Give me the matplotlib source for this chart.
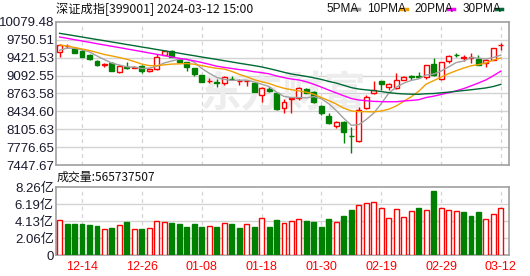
import numpy as np
import matplotlib.pyplot as plt
from matplotlib.lines import Line2D

# 深证成指 399001, daily K line, 2023-12-11 .. 2024-03-12
dates = ["12-11", "12-12", "12-13", "12-14", "12-15", "12-18", "12-19", "12-20", "12-21", "12-22",
         "12-25", "12-26", "12-27", "12-28", "12-29", "01-02", "01-03", "01-04", "01-05", "01-08",
         "01-09", "01-10", "01-11", "01-12", "01-15", "01-16", "01-17", "01-18", "01-19", "01-22",
         "01-23", "01-24", "01-25", "01-26", "01-29", "01-30", "01-31", "02-01", "02-02", "02-05",
         "02-06", "02-07", "02-08", "02-19", "02-20", "02-21", "02-22", "02-23", "02-26", "02-27",
         "02-28", "02-29", "03-01", "03-04", "03-05", "03-06", "03-07", "03-08", "03-11", "03-12"]

opens = [9527, 9630, 9601, 9546, 9472, 9362, 9290, 9325, 9159, 9250,
         9235, 9270, 9178, 9215, 9472, 9546, 9399, 9343, 9233, 9104,
         8985, 8975, 8957, 9035, 8985, 8990, 8957, 8736, 8846, 8773,
         8497, 8670, 8681, 8846, 8791, 8533, 8349, 8166, 8239, 7985,
         7889, 8497, 8770, 8995, 8877, 8860, 9015, 9085, 9080, 9067,
         9306, 9030, 9362, 9480, 9410, 9420, 9399, 9325, 9380, 9650]
highs = [9675, 9680, 9610, 9560, 9485, 9380, 9330, 9335, 9290, 9343,
         9265, 9285, 9225, 9491, 9550, 9555, 9420, 9350, 9240, 9110,
         9049, 9030, 9085, 9090, 9025, 9012, 8965, 8883, 8875, 8780,
         8662, 8699, 8875, 8865, 8810, 8552, 8400, 8263, 8258, 8147,
         8515, 8736, 8985, 9000, 8955, 9150, 9080, 9100, 9165, 9290,
         9410, 9345, 9472, 9515, 9472, 9500, 9472, 9395, 9605, 9700]
lows = [9435, 9610, 9500, 9430, 9380, 9270, 9260, 9170, 9140, 9215,
        9225, 9150, 9165, 9196, 9465, 9430, 9325, 9178, 9090, 8970,
        8957, 8883, 8920, 9010, 8920, 8902, 8785, 8607, 8791, 8460,
        8405, 8405, 8644, 8765, 8590, 8368, 8210, 8120, 7853, 7668,
        7871, 8478, 8750, 8828, 8828, 8845, 9005, 9015, 9049, 9030,
        9090, 9012, 9320, 9430, 9370, 9320, 9285, 9255, 9372, 9564]
closes = [9656, 9645, 9509, 9435, 9399, 9288, 9305, 9178, 9270, 9235,
          9255, 9178, 9215, 9435, 9546, 9435, 9343, 9251, 9122, 8975,
          8995, 8957, 9067, 9025, 8998, 9000, 8791, 8865, 8810, 8478,
          8607, 8685, 8865, 8773, 8607, 8405, 8221, 8239, 8055, 7975,
          8460, 8699, 8820, 8930, 8935, 9010, 9070, 9075, 9070, 9288,
          9104, 9343, 9454, 9470, 9430, 9428, 9288, 9380, 9601, 9665]

ma5 = [9560, 9600, 9595, 9570, 9529, 9455, 9387, 9321, 9288, 9255,
       9249, 9223, 9231, 9264, 9326, 9362, 9395, 9402, 9339, 9225,
       9137, 9060, 9023, 9004, 9008, 9009, 8976, 8936, 8893, 8789,
       8710, 8689, 8689, 8682, 8707, 8667, 8574, 8449, 8305, 8179,
       8190, 8286, 8402, 8577, 8769, 8879, 8953, 9004, 9032, 9103,
       9121, 9176, 9252, 9332, 9360, 9425, 9414, 9399, 9425, 9472]
ma10 = [9656, 9638, 9610, 9583, 9555, 9518, 9481, 9454, 9426, 9392,
        9352, 9305, 9276, 9276, 9291, 9305, 9309, 9316, 9302, 9276,
        9250, 9227, 9213, 9172, 9117, 9073, 9018, 8980, 8948, 8899,
        8860, 8833, 8812, 8787, 8748, 8689, 8632, 8569, 8494, 8443,
        8429, 8430, 8425, 8441, 8474, 8534, 8619, 8703, 8804, 8936,
        9000, 9065, 9128, 9182, 9231, 9273, 9295, 9326, 9379, 9416]
ma20 = [9803, 9780, 9754, 9730, 9706, 9680, 9656, 9632, 9608, 9583,
        9559, 9535, 9509, 9485, 9461, 9435, 9411, 9388, 9364, 9334,
        9301, 9266, 9244, 9224, 9204, 9189, 9164, 9148, 9125, 9087,
        9055, 9030, 9013, 8979, 8933, 8881, 8825, 8774, 8721, 8671,
        8644, 8631, 8619, 8614, 8611, 8612, 8626, 8636, 8649, 8690,
        8714, 8747, 8777, 8812, 8853, 8904, 8957, 9014, 9092, 9176]
ma30 = [9871, 9849, 9826, 9803, 9780, 9757, 9735, 9711, 9689, 9665,
        9643, 9619, 9597, 9573, 9551, 9527, 9505, 9481, 9459, 9435,
        9413, 9391, 9367, 9345, 9321, 9299, 9277, 9253, 9222, 9189,
        9154, 9122, 9100, 9078, 9052, 9022, 8986, 8955, 8914, 8872,
        8846, 8830, 8817, 8800, 8780, 8765, 8756, 8751, 8749, 8759,
        8763, 8776, 8789, 8803, 8818, 8832, 8849, 8866, 8893, 8932]

# volume in 亿 (1e8)
volume = [4.25, 3.77, 3.77, 3.77, 3.65, 3.52, 3.12, 3.32, 3.60, 4.05,
          3.12, 3.20, 3.28, 4.13, 4.00, 3.89, 3.77, 3.44, 3.77, 3.44,
          3.52, 3.44, 3.85, 3.77, 3.32, 3.77, 3.44, 4.45, 3.44, 4.25,
          3.93, 4.13, 4.34, 4.17, 4.05, 3.44, 4.37, 3.97, 4.74, 5.47,
          6.04, 6.32, 6.44, 5.67, 4.45, 5.55, 4.58, 5.35, 5.71, 5.43,
          7.78, 5.67, 5.43, 5.35, 5.22, 4.74, 5.22, 4.34, 4.98, 5.657]
last_volume = "565737507"

price_ticks = [7447.67, 7776.65, 8105.63, 8434.60, 8763.58, 9092.55, 9421.53, 9750.51, 10079.48]
vol_ticks = [0, 2.06, 4.13, 6.19, 8.26]
vol_labels = ["0", "2.06亿", "4.13亿", "6.19亿", "8.26亿"]

RED = "#ff0000"
GREEN = "#008000"
GRID = "#d3d3d3"
FRAME = "#a0a0a0"
MA_COLORS = {"5PMA": "#a0a0a0", "10PMA": "#f0a000", "20PMA": "#ff00ff", "30PMA": "#006a35"}
CJK = ["Noto Sans CJK SC", "DejaVu Sans"]
NUM = ["Liberation Sans", "Noto Sans CJK SC"]

x = np.arange(len(closes))
o = np.array(opens, float)
c = np.array(closes, float)
up = c >= o
# volume colour follows close vs previous close
prev = np.concatenate([[o[0]], c[:-1]])
vol_up = c >= prev
tick_idx = list(range(3, len(dates), 8))

fig = plt.figure(figsize=(5.30, 2.76), dpi=100)
ax = fig.add_axes([56 / 530, 1 - 165 / 276, 453 / 530, 143 / 276])
axv = fig.add_axes([56 / 530, 1 - 255 / 276, 453 / 530, 68 / 276])

for a in (ax, axv):
    a.set_xlim(-0.48, 60.08)
    for s in a.spines.values():
        s.set_color(FRAME)
        s.set_linewidth(1.2)
    a.tick_params(length=0, labelsize=9.5, colors="#1a1a2e", pad=1.5)
    for t in tick_idx:
        a.axvline(t, color=GRID, lw=0.9, ls=(0, (3, 3)), zorder=0)
    a.set_xticks([])

# price panel
ax.set_ylim(price_ticks[0], price_ticks[-1])
ax.set_yticks(price_ticks)
ax.set_yticklabels(["%.2f" % v for v in price_ticks], family=NUM)
for v in price_ticks[1:-1]:
    ax.axhline(v, color=GRID, lw=1, zorder=0)

ax.text(0.5, 0.5, "东方财富", transform=ax.transAxes, fontsize=30, family=CJK,
        color="#ededed", ha="center", va="center", style="italic", weight="bold", zorder=0)

w = 0.66
body_lo = np.minimum(o, c)
body_h = np.maximum(np.abs(c - o), 3)
ax.vlines(x[up], np.array(lows)[up], np.array(highs)[up], color=RED, lw=1, zorder=2)
ax.vlines(x[~up], np.array(lows)[~up], np.array(highs)[~up], color=GREEN, lw=1, zorder=2)
ax.bar(x[up], body_h[up], w, bottom=body_lo[up], facecolor="white", edgecolor=RED, lw=1, zorder=3)
ax.bar(x[~up], body_h[~up], w, bottom=body_lo[~up], facecolor=GREEN, edgecolor=GREEN, lw=1, zorder=3)

for name, ma in zip(MA_COLORS, [ma5, ma10, ma20, ma30]):
    ax.plot(x, ma, color=MA_COLORS[name], lw=1, zorder=4)

# volume panel
vol = np.array(volume)
axv.set_ylim(0, vol_ticks[-1])
axv.set_yticks(vol_ticks)
axv.set_yticklabels(vol_labels, family=NUM)
for v in vol_ticks[1:-1]:
    axv.axhline(v, color=GRID, lw=1, zorder=0)
axv.bar(x[vol_up], vol[vol_up], w, facecolor="white", edgecolor=RED, lw=1, zorder=3)
axv.bar(x[~vol_up], vol[~vol_up], w, facecolor=GREEN, edgecolor=GREEN, lw=1, zorder=3)

for t in tick_idx:
    fig.text((56 + (t + 0.48) * 453 / 60.56) / 530, 1 - 267 / 276, dates[t],
             color=RED, fontsize=9, ha="center", va="center", family=NUM)

# header texts
fig.text(56 / 530, 1 - 9 / 276, "深证成指[399001] 2024-03-12 15:00", fontsize=8.8,
         family=CJK, ha="left", va="center", color="#111111")
fig.text(57 / 530, 1 - 177 / 276, "成交量:" + last_volume, fontsize=8.6,
         family=CJK, ha="left", va="center", color="#111111")

lx = 326
for name, col in MA_COLORS.items():
    t = fig.text(lx / 530, 1 - 9 / 276, name, fontsize=8.5, family=NUM,
                 ha="left", va="center", color="#111111")
    tw = len(name) * 6.1
    fig.add_artist(Line2D([(lx + tw + 3) / 530, (lx + tw + 9) / 530],
                          [1 - 9 / 276, 1 - 9 / 276], color=col, lw=2.5))
    lx += tw + 17

fig.savefig("out.png", dpi=100)
